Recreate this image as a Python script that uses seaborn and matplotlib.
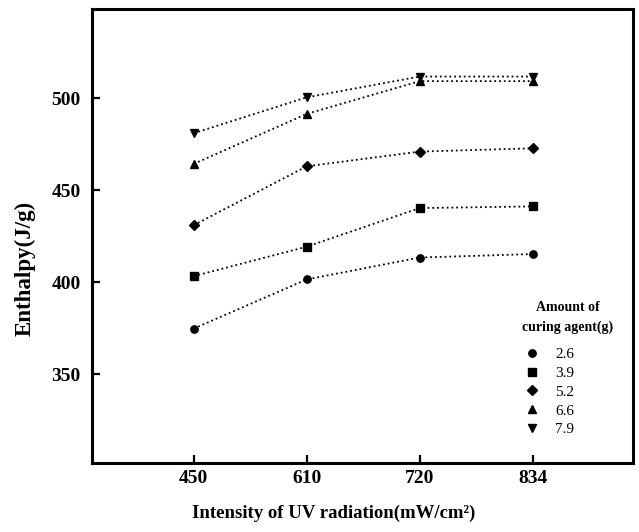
import numpy as np
import pandas as pd
import seaborn as sns
import matplotlib.pyplot as plt
from matplotlib.lines import Line2D

sns.set_theme(style="white", palette=None)
plt.rcParams['font.family'] = ['Liberation Serif', 'DejaVu Serif']
plt.rcParams['text.color'] = 'black'
plt.rcParams['axes.labelcolor'] = 'black'

# data
intensity = ['450', '610', '720', '834']
agent = ['2.6', '3.9', '5.2', '6.6', '7.9']
enthalpy_26 = [374.8, 401.5, 413.4, 415.3]
enthalpy_39 = [403.3, 419.3, 440.3, 441.2]
enthalpy_52 = [431.0, 463.0, 471.0, 472.8]
enthalpy_66 = [464.3, 491.5, 509.3, 509.3]
enthalpy_79 = [481.0, 500.5, 511.8, 511.8]
markers = ['o', 's', 'D', '^', 'v']

series = [enthalpy_26, enthalpy_39, enthalpy_52, enthalpy_66, enthalpy_79]
df = pd.DataFrame({
    'Intensity': intensity * len(agent),
    'Agent': [a for a in agent for _ in intensity],
    'Enthalpy': [v for s in series for v in s],
})

fig = plt.figure(figsize=(6.39, 5.32), dpi=100)
ax = fig.add_axes([0.144, 0.129, 0.847, 0.854])

sns.pointplot(data=df, x='Intensity', y='Enthalpy', hue='Agent', order=intensity,
              hue_order=agent, palette=['black'] * len(agent), markers=markers,
              linestyles=':', markersize=5.3, linewidth=1.3, errorbar=None, ax=ax,
              legend=False)

ax.set_xlim(-0.9, 3.89)
ax.set_ylim(301.5, 548.5)
ax.set_yticks([350, 400, 450, 500])
for sp in ['left', 'bottom', 'top', 'right']:
    ax.spines[sp].set_color('black')
    ax.spines[sp].set_linewidth(2.2)
ax.tick_params(axis='both', direction='in', length=6, width=1.6, colors='black',
               left=True, bottom=True, top=False, right=False, labelsize=14)
ax.tick_params(axis='y', pad=8)
ax.tick_params(axis='x', pad=5)
for lab in ax.get_xticklabels() + ax.get_yticklabels():
    lab.set_fontweight('bold')

ax.set_xlabel('Intensity of UV radiation(mW/cm²)', fontsize=13.5, fontweight='bold', color='black')
ax.set_ylabel('Enthalpy(J/g)', fontsize=16.5, fontweight='bold', color='black')
ax.xaxis.set_label_coords(0.447, -0.09)
ax.yaxis.set_label_coords(-0.105, 0.43)

handles = [Line2D([], [], color='black', marker=m, linestyle='none', markersize=5.3) for m in markers]
leg = ax.legend(handles, agent, frameon=False, loc='upper left',
                bbox_to_anchor=(518.5 / 639, 1 - 341.5 / 532), bbox_transform=fig.transFigure,
                borderaxespad=0, fontsize=11, handlelength=1.0, handletextpad=1.0,
                labelspacing=0.33)
for t in leg.get_texts():
    t.set_color('black')
fig.text(568 / 639, 1 - 317.5 / 532, 'Amount of\ncuring agent(g)', ha='center', va='center',
         fontsize=10, fontweight='bold', linespacing=1.55, multialignment='center', color='black')

fig.savefig('out.png', dpi=100)
